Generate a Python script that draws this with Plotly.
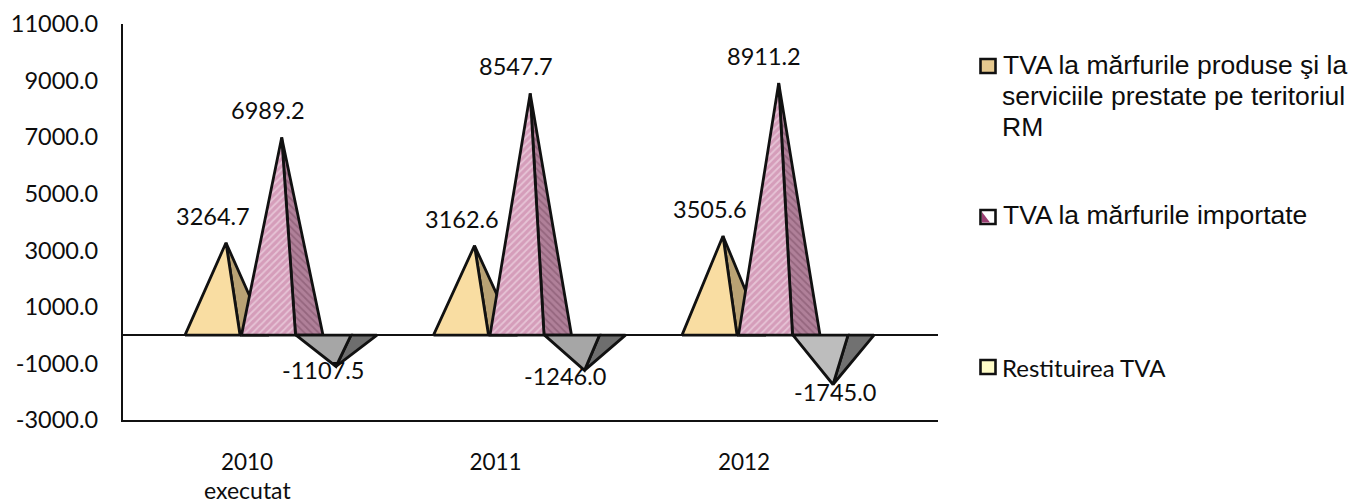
import plotly.graph_objects as go

years = ["2010", "2011", "2012"]
tva_produse = [3264.7, 3162.6, 3505.6]
tva_importate = [6989.2, 8547.7, 8911.2]
restituire = [-1107.5, -1246.0, -1745.0]
y_ticks = [-3000, -1000, 1000, 3000, 5000, 7000, 9000, 11000]
y_tick_labels = ["-3000.0", "-1000.0", "1000.0", "3000.0", "5000.0", "7000.0", "9000.0", "11000.0"]

W, H = 1354, 504
PLOT_L, PLOT_R, PLOT_T, PLOT_B = 123, 938, 24, 420
CATEGORY_PX = 248.5
CENTRE_PX = 247

PYRAMIDS = [
    # series values, base-left, ridge-foot, base-right, apex (px from category centre)
    dict(values=tva_produse, geo=(-62, -7, 20, -21), front="#F9DDA2", side="#B9A274",
         front_pattern=None, side_pattern=None),
    dict(values=tva_importate, geo=(-5.5, 48.5, 76, 34.7), front="#DCA9C3", side="#A2708C",
         front_pattern=dict(shape="/", fgcolor="#F7EAF1", bgcolor="#D59DBA", size=5, solidity=0.35),
         side_pattern=dict(shape="\\", fgcolor="#7A4C64", bgcolor="#B08099", size=5, solidity=0.35)),
]
NEGATIVE_FACES = [("#A6A6A6", "#6E6E6E"), ("#A6A6A6", "#6E6E6E"), ("#BDBDBD", "#717171")]
NEGATIVE_GEO = (49, 104, 130, 89)

LABEL_SHIFTS = {
    "prod": [(-13, 27), (-13, 27), (-13, 27)],
    "imp": [(-14, 27), (-14, 27), (-15, 27)],
    "rest": [(-13, -4), (-20, -6), (2, -7)],
}

INK = "#0D0D0D"
LABEL_FONT = dict(family="Lato", size=23.5, color=INK)
LEGEND_ARIAL = dict(family="Liberation Sans", size=26.5, color=INK)
LEGEND_LATO = dict(family="Lato", size=24, color=INK)
EDGE = dict(color="#111111", width=2.8)


def face(xs, ys, colour, pattern):
    trace = go.Scatter(x=xs, y=ys, mode="lines", fill="toself", fillcolor=colour,
                       line=EDGE, hoverinfo="skip", showlegend=False)
    if pattern:
        trace.update(fillpattern=pattern)
    return trace


def pyramid(i, value, geo, front, side, front_pattern=None, side_pattern=None):
    left, ridge, right, apex = (i + g / CATEGORY_PX for g in geo)
    return [
        face([ridge, right, apex, ridge], [0, 0, value, 0], side, side_pattern),
        face([left, ridge, apex, left], [0, 0, value, 0], front, front_pattern),
    ]


fig = go.Figure()

# Columns in series order, so each later pyramid overlaps the previous one
for i in range(len(years)):
    for spec in PYRAMIDS:
        for tr in pyramid(i, spec["values"][i], spec["geo"], spec["front"], spec["side"],
                          spec["front_pattern"], spec["side_pattern"]):
            fig.add_trace(tr)
    for tr in pyramid(i, restituire[i], NEGATIVE_GEO, *NEGATIVE_FACES[i]):
        fig.add_trace(tr)

# Value labels anchored on each apex
for key, values, geo in (("prod", tva_produse, PYRAMIDS[0]["geo"]),
                         ("imp", tva_importate, PYRAMIDS[1]["geo"]),
                         ("rest", restituire, NEGATIVE_GEO)):
    for i, v in enumerate(values):
        dx, dy = LABEL_SHIFTS[key][i]
        fig.add_annotation(x=i + geo[3] / CATEGORY_PX, y=v, text=f"{v:.1f}", showarrow=False,
                           xshift=dx, yshift=dy, font=LABEL_FONT, xanchor="center", yanchor="middle")


# Page pixels to plot-area paper fractions
def px(x):
    return (x - PLOT_L) / (PLOT_R - PLOT_L)


def py(y):
    return (PLOT_B - y) / (PLOT_B - PLOT_T)


fig.add_annotation(x=0, xref="x", y=py(489.5), yref="paper", yanchor="middle", showarrow=False,
                   text="executat", font=dict(family="Lato", size=23, color=INK))

LEGEND_LINES = [
    (1003, 65, "TVA la mărfurile produse şi la", LEGEND_ARIAL),
    (1002, 96, "serviciile prestate pe teritoriul", LEGEND_ARIAL),
    (1002, 127, "RM", LEGEND_ARIAL),
    (1003, 215, "TVA la mărfurile importate", LEGEND_ARIAL),
    (1002, 367, "Restituirea TVA", LEGEND_LATO),
]
for x, y, text, font in LEGEND_LINES:
    fig.add_annotation(x=px(x), y=py(y), xref="paper", yref="paper", text=text, showarrow=False,
                       xanchor="left", yanchor="middle", align="left", font=font, xshift=-2)

SWATCH = dict(x0=px(980.5), x1=px(995.5), xref="paper", yref="paper")
EDGE_SWATCH = dict(color="#111111", width=2.6)

fig.add_shape(type="rect", **SWATCH, y0=py(73), y1=py(59), fillcolor="#E6C98F",
              line=EDGE_SWATCH, layer="above")
fig.add_shape(type="rect", **SWATCH, y0=py(224), y1=py(210), fillcolor="#FFFFFF",
              line=EDGE_SWATCH, layer="above")
fig.add_shape(type="path", xref="paper", yref="paper", layer="above", line_width=0,
              fillcolor="#9A3E72",
              path=f"M {px(982)} {py(222.5)} L {px(990)} {py(222.5)} L {px(982)} {py(212)} Z")
fig.add_shape(type="rect", **SWATCH, y0=py(374), y1=py(360), fillcolor="#FFFCC8",
              line=EDGE_SWATCH, layer="above")

fig.update_layout(
    width=W, height=H,
    margin=dict(l=PLOT_L, r=W - PLOT_R, t=PLOT_T, b=H - PLOT_B, autoexpand=False),
    paper_bgcolor="white", plot_bgcolor="white",
    showlegend=False,
    xaxis=dict(range=[(PLOT_L - CENTRE_PX) / CATEGORY_PX, (PLOT_R - CENTRE_PX) / CATEGORY_PX],
               tickmode="array", tickvals=list(range(len(years))),
               ticktext=years, showgrid=False, zeroline=False, showline=True, automargin=False,
               linecolor="#111111", linewidth=2.4, ticks="", ticklabelstandoff=21,
               tickfont=dict(family="Lato", size=22.5, color=INK)),
    yaxis=dict(range=[-3000, 11000], tickmode="array", tickvals=y_ticks, ticktext=y_tick_labels,
               showgrid=False, zeroline=True, zerolinecolor="#111111", zerolinewidth=2.2,
               showline=True, linecolor="#111111", linewidth=2.4, ticks="", ticklabelstandoff=18,
               automargin=False, tickfont=LABEL_FONT),
)

fig.write_html("out.html")
